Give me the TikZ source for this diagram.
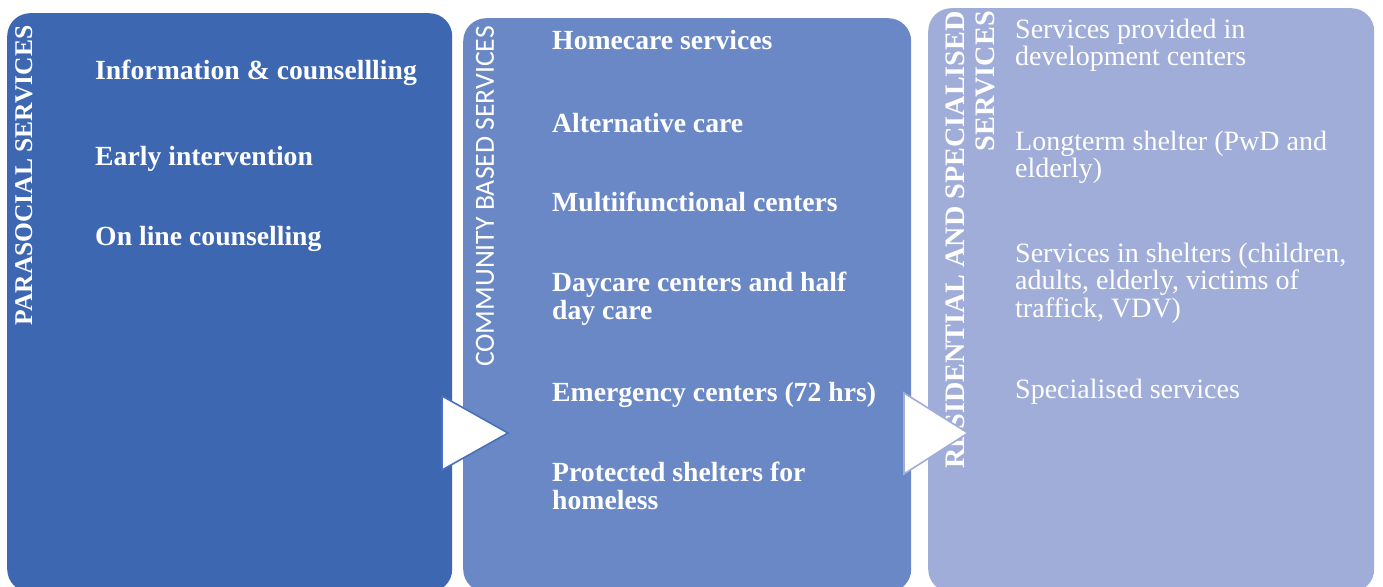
\documentclass[tikz,border=0pt]{standalone}
\usepackage{fontspec}
\setmainfont{Liberation Serif}
\newfontfamily\calibrifont{Carlito}
\definecolor{paraBlue}{RGB}{62,103,177}
\definecolor{commBlue}{RGB}{106,136,198}
\definecolor{resBlue}{RGB}{160,173,216}
\definecolor{edgeBlue}{RGB}{72,112,188}
\begin{document}
\begin{tikzpicture}[x=1pt,y=-1pt,
  panel/.style={rectangle, rounded corners=23pt, draw=none, inner sep=0pt, anchor=north west},
  vlabel/.style={rotate=90, inner sep=0pt, text=white},
  boldItem/.style={anchor=base west, inner sep=0pt, text=white, align=left,
    font=\fontsize{27.7}{28}\selectfont\bfseries},
  plainItem/.style={anchor=base west, inner sep=0pt, text=white, align=left,
    font=\fontsize{28}{27.5}\selectfont},
  chevron/.style={fill=white, line width=1.6pt, line join=miter}]
\useasboundingbox (0,0) rectangle (1383,586);
\fill[white] (0,0) rectangle (1383,586);

% three service panels
\node[panel, fill=paraBlue, minimum width=445pt, minimum height=579pt] (para) at (7,13) {};
\node[panel, fill=commBlue, minimum width=448pt, minimum height=574pt] (comm) at (463,18) {};
\node[panel, fill=resBlue, minimum width=446pt, minimum height=584pt] (res) at (928,8) {};

% panel titles, set vertically
\node[vlabel, font=\fontsize{25.5}{27}\selectfont\bfseries] (tpara) at (24,175.5) {PARASOCIAL SERVICES};
\node[vlabel, font=\fontsize{27.7}{30}\calibrifont] (tcomm) at (485,196.5) {COMMUNITY BASED SERVICES};
\node[vlabel, anchor=east, align=right, font=\fontsize{28.2}{30}\selectfont\bfseries] (tres) at (970,11)
  {RESIDENTIAL AND SPECIALISED\\SERVICES};

% parasocial services
\node[boldItem] (p1) at (95,79) {Information \& counsellling};
\node[boldItem] (p2) at (95,165) {Early intervention};
\node[boldItem] (p3) at (95,245) {On line counselling};

% community based services (multi-line items sit on their last baseline)
\node[boldItem] (c1) at (552,50) {Homecare services};
\node[boldItem] (c2) at (552,132) {Alternative care};
\node[boldItem] (c3) at (552,211) {Multiifunctional centers};
\node[boldItem] (c4) at (552,319) {Daycare centers and half\\day care};
\node[boldItem] (c5) at (552,401) {Emergency centers (72 hrs)};
\node[boldItem] (c6) at (552,509) {Protected shelters for\\homeless};

% residential and specialised services
\node[plainItem] (r1) at (1015,65.5) {Services provided in\\development centers};
\node[plainItem] (r2) at (1015,177.5) {Longterm shelter (PwD and\\elderly)};
\node[plainItem] (r3) at (1015,317) {Services in shelters (children,\\adults, elderly, victims of\\traffick, VDV)};
\node[plainItem] (r4) at (1015,398) {Specialised services};

% chevrons between the panels
\draw[chevron, draw=edgeBlue] (442,396) -- (508,433) -- (442,470) -- cycle;
\draw[chevron, draw=resBlue] (904,393) -- (968,433) -- (904,474) -- cycle;
\end{tikzpicture}
\end{document}
